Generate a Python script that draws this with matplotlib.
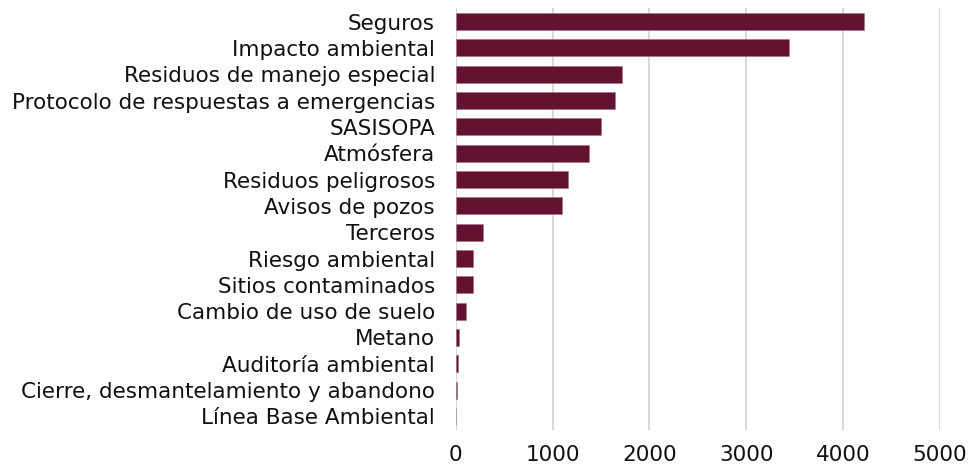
import matplotlib.pyplot as plt

categories = [
    "Seguros",
    "Impacto ambiental",
    "Residuos de manejo especial",
    "Protocolo de respuestas a emergencias",
    "SASISOPA",
    "Atmósfera",
    "Residuos peligrosos",
    "Avisos de pozos",
    "Terceros",
    "Riesgo ambiental",
    "Sitios contaminados",
    "Cambio de uso de suelo",
    "Metano",
    "Auditoría ambiental",
    "Cierre, desmantelamiento y abandono",
    "Línea Base Ambiental",
]
values = [4218, 3440, 1721, 1646, 1500, 1377, 1163, 1101, 275, 172, 172, 103, 27, 20, 8, 0]
xticks = [0, 1000, 2000, 3000, 4000, 5000]

plt.rcParams["font.family"] = ["DejaVu Sans"]

fig = plt.figure(figsize=(9.68, 4.68), dpi=100)
ax = fig.add_axes([0.471, 0.082, 0.4998, 0.9])

ypos = list(range(len(categories)))
ax.barh(ypos, values, height=0.65, color="#63132F", edgecolor="#a0708a", linewidth=0.4, zorder=3)

ax.set_ylim(len(categories) - 0.5, -0.5)
ax.set_xlim(0, 5000)
ax.set_yticks(ypos)
ax.set_yticklabels(categories, fontsize=15.5, color="#111111")
ax.set_xticks(xticks)
ax.set_xticklabels([str(t) for t in xticks], fontsize=15.5, color="#111111")
ax.tick_params(axis="y", length=0, pad=15)
ax.tick_params(axis="x", length=0, pad=11)

ax.grid(axis="x", color="#d9d9d9", linewidth=1.5, zorder=0)
for s in ax.spines.values():
    s.set_visible(False)

fig.savefig("out.png", dpi=100)
